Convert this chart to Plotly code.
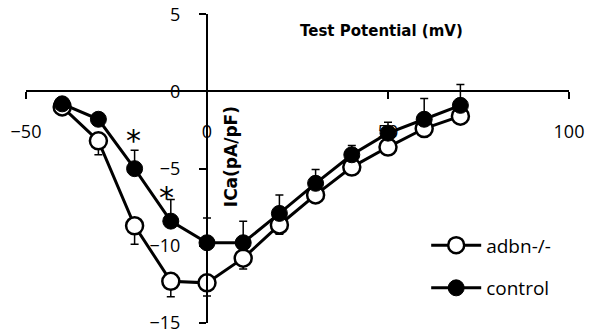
import plotly.graph_objects as go

voltage = [-40, -30, -20, -10, 0, 10, 20, 30, 40, 50, 60, 70]
adbn_ica = [-1.0, -3.2, -8.7, -12.3, -12.4, -10.8, -8.65, -6.7, -4.9, -3.6, -2.4, -1.6]
adbn_err = [0.3, 0.9, 1.2, 1.0, 0.85, 0.7, 0.6, 0.4, 0.4, 0.4, 0.4, 0.4]
control_ica = [-0.8, -1.8, -5.0, -8.4, -9.8, -9.8, -7.9, -5.95, -4.1, -2.7, -1.8, -0.9]
control_err = [0.3, 0.3, 1.2, 1.4, 1.6, 1.4, 1.2, 0.9, 0.6, 0.7, 1.35, 1.35]
x_ticks = [-50, 0, 50, 100]
y_ticks = [-15, -10, -5, 0, 5]
star_x = [-20.4, -11.3]
star_y = [-2.8, -6.5]

FONT = "Open Sans"

fig = go.Figure()
fig.add_trace(go.Scatter(
    x=voltage, y=adbn_ica, name="adbn-/-", mode="lines+markers", legendgroup="a",
    line=dict(color="black", width=3),
    marker=dict(symbol="circle", size=17, color="white", line=dict(color="black", width=2.5)),
    error_y=dict(type="data", symmetric=False, array=[0] * len(adbn_err), arrayminus=adbn_err,
                 color="black", thickness=1.5, width=4),
))
fig.add_trace(go.Scatter(
    x=voltage, y=control_ica, name="control", mode="lines+markers", legendgroup="b",
    line=dict(color="black", width=3),
    marker=dict(symbol="circle", size=16, color="black", line=dict(color="black", width=1)),
    error_y=dict(type="data", symmetric=False, array=control_err, arrayminus=[0] * len(control_err),
                 color="black", thickness=1.5, width=4),
))

for sx, sy in zip(star_x, star_y):
    fig.add_annotation(x=sx, y=sy, text="*", showarrow=False, yshift=-6,
                       font=dict(family="DejaVu Sans", size=30, color="black"))

fig.add_annotation(xref="paper", yref="paper", x=0.655, y=0.979, text="<b>Test Potential (mV)</b>",
                   showarrow=False, font=dict(family="DejaVu Sans", size=15, color="black"))
fig.add_annotation(x=6.6, y=-4.2, text="<b>ICa(pA/pF)</b>", textangle=-90,
                   showarrow=False, font=dict(family="DejaVu Sans", size=17, color="black"))

fig.update_layout(
    width=601, height=333,
    margin=dict(l=26, r=32, t=14, b=10, autoexpand=False),
    paper_bgcolor="white", plot_bgcolor="white",
    font=dict(family=FONT, size=18, color="black"),
    showlegend=True,
    legend=dict(x=0.737, y=0.313, xanchor="left", yanchor="top", bgcolor="rgba(0,0,0,0)",
                font=dict(family=FONT, size=19), itemwidth=50, tracegroupgap=15,
                traceorder="grouped"),
    xaxis=dict(range=[-50, 100], tickvals=x_ticks, showgrid=False, zeroline=False,
               showline=True, linecolor="black", linewidth=2, automargin=False,
               ticks="outside", ticklen=7, tickwidth=2, tickcolor="black",
               anchor="free", position=0.75, ticklabelstandoff=17, layer="below traces",
               ticklabeloverflow="allow"),
    yaxis=dict(range=[-15, 5.02], tickvals=y_ticks,
               showgrid=False, zeroline=False,
               showline=True, linecolor="black", linewidth=2, automargin=False,
               ticks="outside", ticklen=7, tickwidth=2, tickcolor="black",
               anchor="free", position=50 / 150, ticklabelstandoff=15,
               ticklabeloverflow="allow"),
)

fig.write_html("out.html", config={"displayModeBar": False},
               post_script="document.body.style.margin='0';")
